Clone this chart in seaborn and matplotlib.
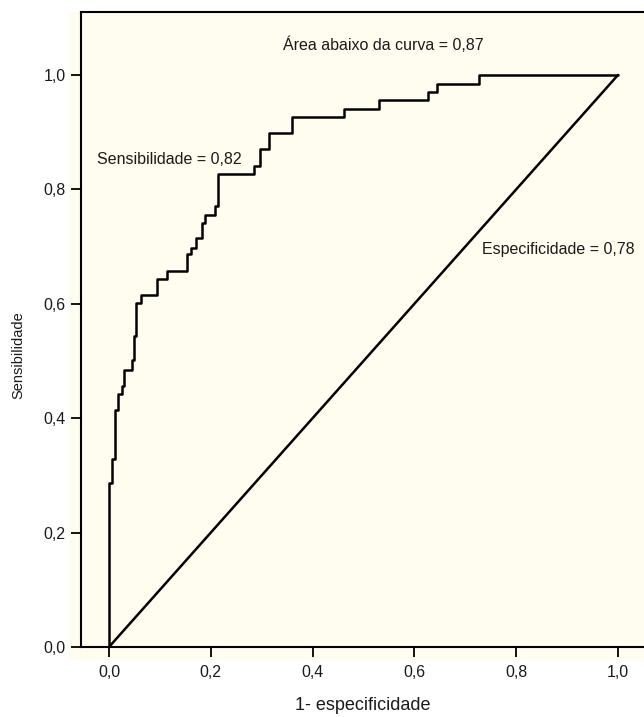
import matplotlib
matplotlib.use("Agg")
import matplotlib.pyplot as plt
import pandas as pd
import seaborn as sns
from matplotlib.patches import Rectangle

# ROC curve corners (1 - specificity, sensitivity)
fpr = [0.0, 0.0, 0.005, 0.012, 0.018, 0.025, 0.029, 0.045, 0.049, 0.054,
       0.062, 0.094, 0.113, 0.153, 0.162, 0.171, 0.182, 0.189, 0.208, 0.215,
       0.284, 0.297, 0.315, 0.359, 0.462, 0.531, 0.626, 0.645, 0.727, 1.0]
tpr = [0.0, 0.286, 0.328, 0.414, 0.442, 0.456, 0.485, 0.502, 0.543, 0.601,
       0.615, 0.643, 0.658, 0.687, 0.697, 0.715, 0.741, 0.755, 0.771, 0.827,
       0.841, 0.870, 0.899, 0.926, 0.941, 0.956, 0.970, 0.984, 1.0, 1.0]
# reference line
diag_x = [0.0, 1.0]
diag_y = [0.0, 1.0]

ticks = [0.0, 0.2, 0.4, 0.6, 0.8, 1.0]
tick_labels = ['0,0', '0,2', '0,4', '0,6', '0,8', '1,0']

df_roc = pd.DataFrame({'fpr': fpr, 'tpr': tpr})
df_diag = pd.DataFrame({'x': diag_x, 'y': diag_y})

sns.set_theme(style='white')
plt.rcParams['font.family'] = ['Liberation Sans', 'DejaVu Sans']
plt.rcParams['axes.linewidth'] = 1.5

cream = '#FFFDF0'

fig = plt.figure(figsize=(6.44, 7.17), dpi=100)
W, H = 644, 717
# cream backdrop slightly larger than the frame
fig.patches.append(Rectangle((69 / W, (H - 660) / H), (W - 69) / W, (660 - 12) / H,
                             transform=fig.transFigure, facecolor=cream,
                             edgecolor='none', zorder=-10))
ax = fig.add_axes([81 / W, (H - 647) / H, (W - 81) / W, (647 - 12) / H])
ax.set_facecolor(cream)

sns.lineplot(data=df_roc, x='fpr', y='tpr', sort=False, estimator=None,
             drawstyle='steps-post', color='black', linewidth=1.8, ax=ax)
sns.lineplot(data=df_diag, x='x', y='y', sort=False, estimator=None,
             color='black', linewidth=1.8, ax=ax)

ax.set_xlim(-0.055, 1.051)
ax.set_ylim(0.0, 1.110)
ax.set_xticks(ticks)
ax.set_xticklabels(tick_labels, fontsize=11.5)
ax.set_yticks(ticks)
ax.set_yticklabels(tick_labels, fontsize=11.5)
ax.tick_params(axis='both', direction='out', length=7, width=1.3,
               color='black', pad=4, labelcolor='#1a1a1a')
ax.tick_params(axis='x', pad=6)
ax.xaxis.set_ticks_position('bottom')
ax.yaxis.set_ticks_position('left')

for side in ['left', 'top', 'bottom']:
    ax.spines[side].set_color('black')
    ax.spines[side].set_linewidth(1.5)
ax.spines['right'].set_visible(False)

ax.set_xlabel('1- especificidade', fontsize=13, color='#1a1a1a', labelpad=12)
ax.set_ylabel('Sensibilidade', fontsize=10.5, color='#1a1a1a')
ax.yaxis.set_label_coords(-0.0995, 0.46)

ax.text(0.539, 1.053, 'Área abaixo da curva = 0,87', fontsize=11.5,
        ha='center', va='center', color='#1a1a1a')
ax.text(-0.024, 0.853, 'Sensibilidade = 0,82', fontsize=11.5,
        ha='left', va='center', color='#1a1a1a')
ax.text(0.733, 0.695, 'Especificidade = 0,78', fontsize=11.5,
        ha='left', va='center', color='#1a1a1a')

fig.savefig('out.png', dpi=100)
